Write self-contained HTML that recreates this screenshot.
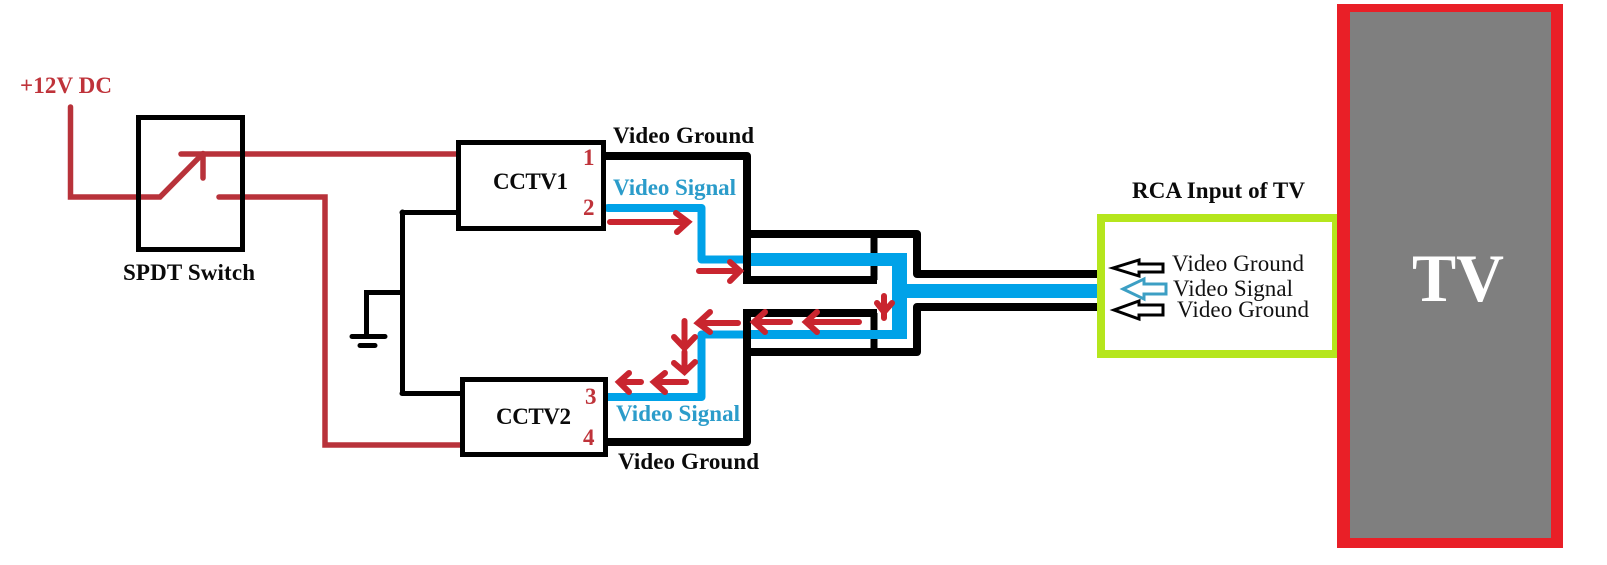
<!DOCTYPE html>
<html>
<head>
<meta charset="utf-8">
<style>
html,body{margin:0;padding:0;background:#fff;width:1607px;height:565px;overflow:hidden}
svg{display:block}
text{font-family:"Liberation Serif",serif}
.b{font-weight:bold;font-size:23px;fill:#0a0a0a}
.s{font-weight:bold;font-size:23px;fill:#2b9cca}
.n{font-weight:bold;font-size:23px;fill:#bf333a}
.r{font-size:23px;fill:#111}
</style>
</head>
<body>
<svg width="1607" height="565" viewBox="0 0 1607 565" xmlns="http://www.w3.org/2000/svg">
<rect width="1607" height="565" fill="#fff"/>

<!-- TV -->
<rect x="1337" y="4" width="226" height="544" fill="#e91f27"/>
<rect x="1350" y="12" width="201" height="526" fill="#7f7f7f"/>
<text x="1412" y="301" font-size="68" font-weight="bold" fill="#fff" textLength="92" lengthAdjust="spacingAndGlyphs">TV</text>

<!-- RCA box -->
<path d="M1097 214H1337V358H1097Z M1105 222V350H1332V222Z" fill="#b5e61d" fill-rule="evenodd"/>

<!-- Red power wires -->
<g fill="none" stroke="#b8323a" stroke-width="5.500" stroke-linecap="round" stroke-linejoin="miter">
<path d="M70.500 107V197H160L203 153.500"/>
<path d="M181 154H457"/>
<path d="M203 154V178"/>
<path d="M219 197H325V445H461"/>
</g>

<!-- Switch -->
<rect x="138.500" y="117.500" width="104" height="132" fill="none" stroke="#000" stroke-width="5"/>

<!-- Ground -->
<g fill="none" stroke="#000" stroke-width="5" stroke-linecap="round">
<path d="M402.500 212V393"/>
<path d="M402 212.500H458"/>
<path d="M402 393.500H462"/>
<path d="M402 292.500H366.500V336"/>
<path d="M352 336.500H385"/>
<path d="M360 345.500H375"/>
</g>

<!-- Black shields (mid section, under blue) -->
<g fill="none" stroke="#000" stroke-width="8" stroke-linejoin="round">
<path d="M747 234H917V274H1097"/>
<path d="M747 280H877"/>
<path d="M747 313H877"/>
<path d="M747 352H917V307H1097"/>
<path d="M874 234V280" stroke-width="7"/>
<path d="M874 313V352" stroke-width="7"/>
</g>

<!-- Blue signal -->
<g fill="none" stroke="#00a2e8" stroke-linejoin="round">
<path d="M608 208H701.500V259.500H745" stroke-width="8" stroke-linecap="round"/>
<path d="M608 397H701.500V334.500H745" stroke-width="8" stroke-linecap="round"/>
</g>
<path d="M751 253H907V284H1097V298H907V339H751V330H892V266H751Z" fill="#00a2e8"/>

<!-- Black shield outer vertical -->
<g fill="none" stroke="#000" stroke-width="8" stroke-linejoin="round">
<path d="M601 156H747V284"/>
<path d="M603 442H747V309"/>
</g>

<!-- Boxes -->
<rect x="458.500" y="142.500" width="145" height="86" fill="none" stroke="#000" stroke-width="5"/>
<rect x="462.500" y="379.500" width="143" height="75" fill="none" stroke="#000" stroke-width="5"/>

<!-- Red current arrows -->
<g fill="none" stroke="#c9252f" stroke-width="6" stroke-linecap="round" stroke-linejoin="miter">
<path d="M610 222H687M676 213L688 222L677 232"/>
<path d="M699 271H738M730 262L740 271L730 281"/>
<path d="M738 323H698M710 312L698 323L710 332"/>
<path d="M790 322H754M765 312L754 322L765 332"/>
<path d="M859 322H807M817 312L806 322L817 332"/>
<path d="M884 296V318M877 303L884 312L892 303"/>
<path d="M684.500 321V348M674 337L684.500 348L695 337"/>
<path d="M684.500 352V372M674 363L684.500 372L695 362"/>
<path d="M686 382H654M665 373L654 382L665 392"/>
<path d="M641 382H619M629 373L619 382L629 392"/>
</g>

<!-- Hollow input arrows -->
<g fill="#fff" stroke-width="3" stroke-linejoin="miter">
<path d="M1113 268L1139 260V264H1163V272H1139V276Z" stroke="#000"/>
<path d="M1123 289L1144 279V284H1166V294H1144V299Z" stroke="#3c9fc4"/>
<path d="M1114 310L1139 301V305H1163V315H1139V319Z" stroke="#000"/>
</g>

<!-- Labels -->
<text x="20" y="93" class="n" textLength="92" lengthAdjust="spacing">+12V DC</text>
<text x="123" y="280" class="b" textLength="132" lengthAdjust="spacing">SPDT Switch</text>
<text x="493" y="189" class="b" textLength="75" lengthAdjust="spacing">CCTV1</text>
<text x="496" y="424" class="b" textLength="75" lengthAdjust="spacing">CCTV2</text>
<text x="583" y="165" class="n">1</text>
<text x="583" y="215" class="n">2</text>
<text x="585" y="404" class="n">3</text>
<text x="583" y="445" class="n">4</text>
<text x="613" y="143" class="b" textLength="141" lengthAdjust="spacing">Video Ground</text>
<text x="618" y="469" class="b" textLength="141" lengthAdjust="spacing">Video Ground</text>
<text x="613" y="195" class="s" textLength="123" lengthAdjust="spacing">Video Signal</text>
<text x="616" y="421" class="s" textLength="124" lengthAdjust="spacing">Video Signal</text>
<text x="1132" y="198" class="b" textLength="173" lengthAdjust="spacing">RCA Input of TV</text>
<text x="1172" y="271" class="r" textLength="132" lengthAdjust="spacing">Video Ground</text>
<text x="1173" y="296" class="r" textLength="120" lengthAdjust="spacing">Video Signal</text>
<text x="1177" y="317" class="r" textLength="132" lengthAdjust="spacing">Video Ground</text>
</svg>
</body>
</html>
